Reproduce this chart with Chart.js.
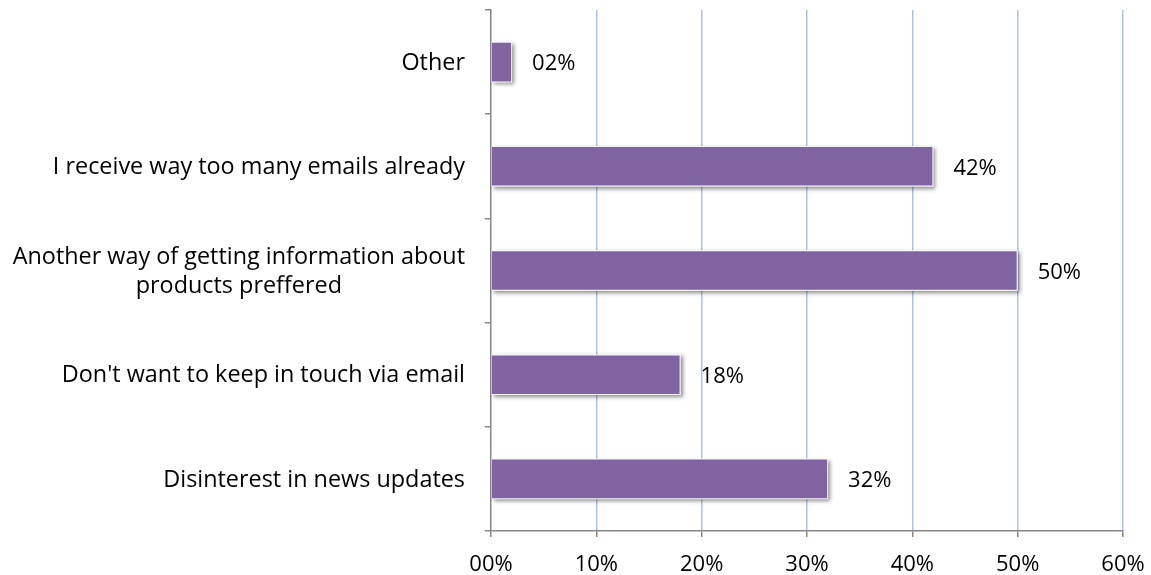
<!DOCTYPE html>
<html>
<head>
<meta charset="utf-8">
<script src="https://cdn.jsdelivr.net/npm/chart.js@4/dist/chart.umd.min.js"></script>
<style>
  html, body { margin: 0; padding: 0; background: #ffffff; }
</style>
</head>
<body>
<canvas id="c" width="1151" height="575"></canvas>
<script>
// Survey reasons, listed top to bottom
const categories = [
  ['Other'],
  ['I receive way too many emails already'],
  ['Another way of getting information about', 'products preffered'],
  ["Don't want to keep in touch via email"],
  ['Disinterest in news updates']
];
// Share of respondents, in percent
const shares = [2, 42, 50, 18, 32];
// Horizontal axis labels
const axisTicks = ['00%', '10%', '20%', '30%', '40%', '50%', '60%'];

const FONT = '"Open Sans", "Liberation Sans", sans-serif';
const pct = v => String(v).padStart(2, '0') + '%';

// Soft drop shadow cast by each bar, painted just beneath it
const barShadow = {
  id: 'barShadow',
  beforeDatasetsDraw(chart) {
    const ctx = chart.ctx;
    const meta = chart.getDatasetMeta(0);
    ctx.save();
    ctx.shadowColor = 'rgba(0,0,0,0.45)';
    ctx.shadowBlur = 4;
    ctx.shadowOffsetX = 2;
    ctx.shadowOffsetY = 2;
    ctx.fillStyle = '#ffffff';
    meta.data.forEach(bar => {
      const { x, y, base, height } = bar.getProps(['x', 'y', 'base', 'height'], true);
      ctx.fillRect(Math.min(x, base), y - height / 2, Math.abs(x - base), height);
    });
    ctx.restore();
  }
};

// Value labels just past the end of each bar
const valueLabels = {
  id: 'valueLabels',
  afterDatasetsDraw(chart) {
    const ctx = chart.ctx;
    const meta = chart.getDatasetMeta(0);
    ctx.save();
    ctx.font = '22px ' + FONT;
    ctx.fillStyle = '#000000';
    ctx.textAlign = 'left';
    ctx.textBaseline = 'middle';
    meta.data.forEach((bar, i) => {
      ctx.fillText(pct(shares[i]), bar.x + 20, bar.y + 2);
    });
    ctx.restore();
  }
};

// Category names: block right-aligned to the axis, lines centred inside the block
const categoryLabels = {
  id: 'categoryLabels',
  afterDraw(chart) {
    const ctx = chart.ctx;
    const y = chart.scales.y;
    const right = y.right - 26;
    const lineH = 29;
    ctx.save();
    ctx.font = '23.4px ' + FONT;
    ctx.fillStyle = '#000000';
    ctx.textAlign = 'center';
    ctx.textBaseline = 'middle';
    categories.forEach((lines, i) => {
      const cy = y.getPixelForValue(i) + 1;
      const w = Math.max(...lines.map(l => ctx.measureText(l).width));
      const cx = right - w / 2;
      const top = cy - (lines.length - 1) * lineH / 2;
      lines.forEach((l, j) => ctx.fillText(l, cx, top + j * lineH));
    });
    ctx.restore();
  }
};

new Chart(document.getElementById('c'), {
  type: 'bar',
  data: {
    labels: categories.map(l => l.join(' ')),
    datasets: [{
      data: shares,
      backgroundColor: '#8064a2',
      borderColor: '#f4f2f7',
      borderWidth: 1,
      categoryPercentage: 0.78,
      barPercentage: 0.5
    }]
  },
  plugins: [barShadow, valueLabels, categoryLabels],
  options: {
    indexAxis: 'y',
    responsive: false,
    animation: false,
    layout: { padding: { left: 485, right: 28, top: 10, bottom: 0 } },
    plugins: { legend: { display: false }, tooltip: { enabled: false } },
    scales: {
      x: {
        min: 0,
        max: 60,
        afterFit: scale => {
          scale.height = 44;
          scale.paddingLeft = 0;
          scale.paddingRight = 0;
        },
        ticks: {
          stepSize: 10,
          callback: (v, i) => axisTicks[i],
          color: '#000000',
          font: { family: FONT, size: 22 },
          padding: 15,
          maxRotation: 0
        },
        grid: {
          color: c => c.index === 0 ? 'rgba(0,0,0,0)' : '#abc2e8',
          lineWidth: 1.5,
          tickColor: '#868686',
          tickLength: 6
        },
        border: { color: '#868686', width: 1.5 }
      },
      y: {
        ticks: { display: false },
        grid: {
          offset: true,
          drawOnChartArea: false,
          tickColor: '#868686',
          tickLength: 6,
          lineWidth: 1.5
        },
        border: { color: '#868686', width: 1.5 }
      }
    }
  }
});
</script>
</body>
</html>
